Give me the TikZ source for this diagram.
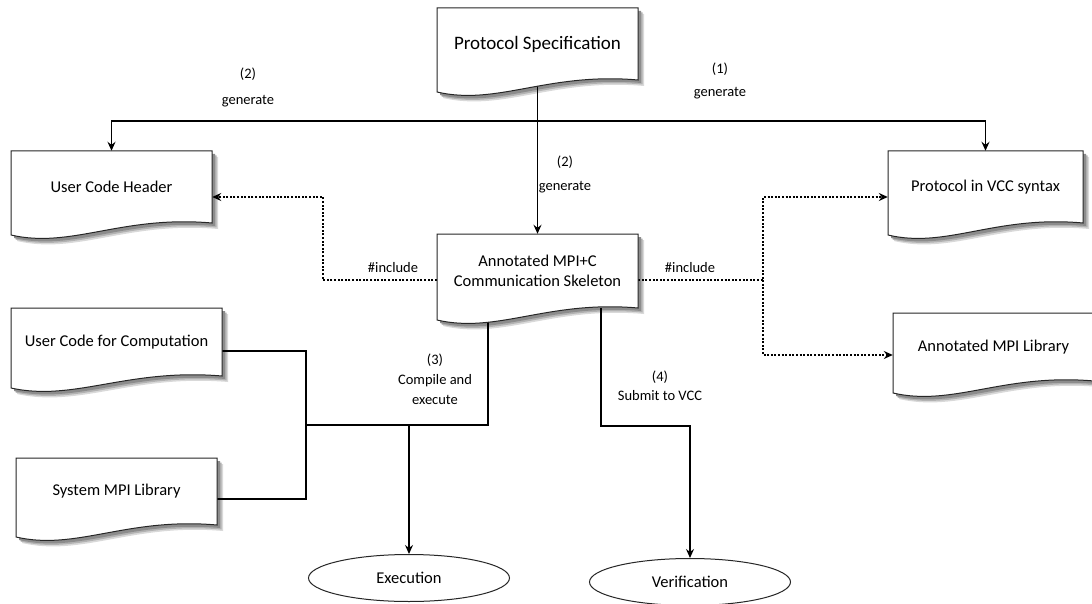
\documentclass[tikz,border=0pt]{standalone}
\usepackage{fontspec}
\setmainfont{Carlito}
\usetikzlibrary{arrows.meta,calc,shapes.geometric}
\pgfdeclarelayer{bg}\pgfdeclarelayer{shadow}\pgfdeclarelayer{conn}
\pgfsetlayers{bg,shadow,conn,main}
\tikzset{
 docline/.style={draw=black!85, line width=1pt, fill=white},
 doctext/.style={draw=none, inner sep=0pt, align=center},
 conn/.style={draw=black, line width=1.5pt},
 arr/.style={conn, -{Stealth[length=9pt,width=8pt,inset=3pt]}},
 dotarr/.style={draw=black, line width=2pt, dash pattern=on 2pt off 1.6pt, -{Stealth[length=9pt,width=8pt,inset=3pt]}},
 lbl/.style={align=center, inner sep=0pt},
 endnode/.style={ellipse, draw=black!85, line width=1pt, fill=white, minimum width=201pt, minimum height=47pt, inner sep=0pt, font=\fontsize{16.5}{20}\selectfont}
}
\newcommand\docbox[7]{%
 \pgfmathsetmacro\dw{#4-#2}%
 \pgfmathsetmacro\dh{#5-#3}%
 \pgfmathsetmacro\cxa{#2+0.55*\dw}%
 \pgfmathsetmacro\cxb{#2+0.3*\dw}%
 \def\docp{(#2,#3) -- (#4,#3) -- (#4,#5) .. controls (\cxa,#5-8) and (\cxb,#5+26) .. (#2,#5+12) -- cycle}%
 \begin{pgfonlayer}{shadow}
  \fill[black!15,shift={(6,6)}] \docp;
  \fill[black!30,shift={(4.5,4.5)}] \docp;
  \fill[black!45,shift={(3,3)}] \docp;
 \end{pgfonlayer}
 \filldraw[docline] \docp;
 \node[doctext, minimum width=\dw pt, minimum height=\dh pt, font=#7] (#1) at ({(#2+#4)/2},{(#3+#5)/2}) {#6};
}
\begin{document}
\begin{tikzpicture}[x=1pt,y=-1pt]
\useasboundingbox (0,0) rectangle (1092,604);
\begin{pgfonlayer}{bg}
 \fill[white] (0,0) rectangle (1092,604);
\end{pgfonlayer}
\def\bigf{\fontsize{19}{22}\selectfont}
\def\medf{\fontsize{16.5}{20}\selectfont}
\docbox{ps}{437}{8}{638}{80}{Protocol Specification}{\bigf}
\docbox{uch}{11}{151}{212}{223}{User Code Header}{\medf}
\docbox{mpi}{437}{234}{638}{308}{Annotated MPI+C\\Communication Skeleton}{\medf}
\docbox{vcc}{888}{151}{1083}{223}{Protocol in VCC syntax}{\medf}
\docbox{aml}{893}{313}{1094}{381}{Annotated MPI Library}{\medf}
\docbox{ucc}{11}{308}{222}{376}{User Code for Computation}{\medf}
\docbox{sml}{16}{458}{217}{525}{System MPI Library}{\medf}
\node[endnode] (exe) at (409,578) {Execution};
\node[endnode] (ver) at (690,582) {Verification};
% labels
\node[lbl, font=\fontsize{14.5}{26}\selectfont] (l2a) at (248,87) {(2)\\generate};
\node[lbl, font=\fontsize{14.5}{23}\selectfont] (l1) at (720,81) {(1)\\generate};
\node[lbl, font=\fontsize{14.5}{24}\selectfont] (l2b) at (565,174) {(2)\\generate};
\node[lbl, font=\fontsize{14.5}{20}\selectfont] (l3) at (435,379) {(3)\\Compile and\\execute};
\node[lbl, font=\fontsize{14.5}{19}\selectfont] (l4) at (660,386) {(4)\\Submit to VCC};
\node[lbl, font=\fontsize{14.5}{17}\selectfont] (inc1) at (393,268) {\#include};
\node[lbl, font=\fontsize{14.5}{17}\selectfont] (inc2) at (690,268) {\#include};
% connectors
\coordinate (j1) at (537,121);
\coordinate (dl) at (323,280);
\coordinate (dr) at (763,280);
\coordinate (b1) at (488,425);
\coordinate (b2) at (306,425);
\coordinate (v1) at (601,426);
\begin{pgfonlayer}{conn}
 \draw[arr] (ps.south) -- (mpi.north);
 \draw[arr] (j1) -| (uch.north);
 \draw[arr] (j1) -| (vcc.north);
 \draw[dotarr] ($(mpi.west)+(0,9)$) -- (dl) |- ($(uch.east)+(0,10)$);
 \draw[dotarr] ($(mpi.east)+(0,9)$) -- (dr) |- ($(vcc.west)+(0,10)$);
 \draw[dotarr] (dr) |- ($(aml.west)+(0,8)$);
 \draw[conn] (mpi.south -| b1) -- (b1) -- (b2);
 \draw[conn] ($(ucc.east)+(0,9)$) -| (b2) |- ($(sml.east)+(0,7.5)$);
 \draw[arr] (exe.north |- b1) -- (exe.north);
 \draw[arr] (mpi.south -| v1) -- (v1) -| (ver.north);
\end{pgfonlayer}
\end{tikzpicture}
\end{document}
